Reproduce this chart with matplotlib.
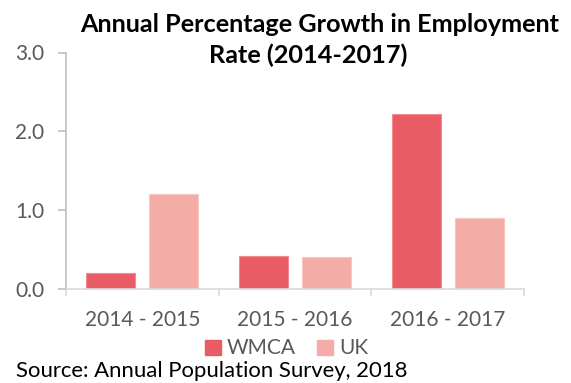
import matplotlib.pyplot as plt
import numpy as np
from matplotlib.patches import Patch

periods = ["2014 - 2015", "2015 - 2016", "2016 - 2017"]
wmca = [0.2, 0.42, 2.22]
uk = [1.2, 0.4, 0.9]
y_ticks = [0.0, 1.0, 2.0, 3.0]

WMCA_COL = "#E95C66"
UK_COL = "#F4ACA7"
GREY_TXT = "#595959"


def main():
    plt.rcParams['font.family'] = ['Lato', 'DejaVu Sans']

    fig = plt.figure(figsize=(5.71, 3.83), dpi=100)
    ax = fig.add_axes([66 / 571, 1 - 289 / 383, (524 - 66) / 571, (289 - 52.5) / 383])

    x = np.arange(len(periods))
    w = 0.32
    off = 0.206
    ax.bar(x - off, wmca, w, color=WMCA_COL, edgecolor="#F38C92", linewidth=0.8, label="WMCA")
    ax.bar(x + off, uk, w, color=UK_COL, edgecolor="#F8C6C2", linewidth=0.8, label="UK")

    ax.set_xlim(-0.5, 2.5)
    ax.set_ylim(0, 3.0)
    ax.set_yticks(y_ticks)
    ax.set_yticklabels([f"{v:.1f}" for v in y_ticks])

    ax.set_xticks(x)
    ax.set_xticklabels(periods)
    ax.set_xticks([-0.5, 0.5, 1.5, 2.5], minor=True)
    ax.tick_params(axis='x', which='major', length=0, pad=15, labelsize=15, labelcolor=GREY_TXT)
    ax.tick_params(axis='x', which='minor', length=5, width=1.2, color="#D9D9D9")
    ax.tick_params(axis='y', length=5.5, width=1.2, color="#BFBFBF", pad=10,
                   labelsize=15, labelcolor=GREY_TXT)

    for side in ("top", "right"):
        ax.spines[side].set_visible(False)
    ax.spines["left"].set_color("#BFBFBF")
    ax.spines["left"].set_linewidth(1.2)
    ax.spines["bottom"].set_color("#D9D9D9")
    ax.spines["bottom"].set_linewidth(1.2)

    # two-line title, centred a little right of the axes
    fig.text(0.56, 1 - 24 / 383, "Annual Percentage Growth in Employment",
             ha='center', va='center', fontsize=18.2, fontweight='bold', color='black')
    fig.text(0.54, 1 - 55 / 383, "Rate (2014-2017)",
             ha='center', va='center', fontsize=18.2, fontweight='bold', color='black')

    handles = [Patch(color=WMCA_COL, label="WMCA"), Patch(color=UK_COL, label="UK")]
    leg = fig.legend(handles=handles, loc='center', bbox_to_anchor=(0.502, 1 - 348.5 / 383),
                     ncol=2, frameon=False, fontsize=15, handlelength=0.75, handleheight=0.75,
                     handletextpad=0.3, columnspacing=1.0, borderpad=0)
    for t in leg.get_texts():
        t.set_color(GREY_TXT)

    fig.text(16 / 571, 1 - 377 / 383, "Source: Annual Population Survey, 2018",
             ha='left', va='baseline', fontsize=15.9, color='black')

    fig.savefig("out.png", dpi=100)


if __name__ == "__main__":
    main()
